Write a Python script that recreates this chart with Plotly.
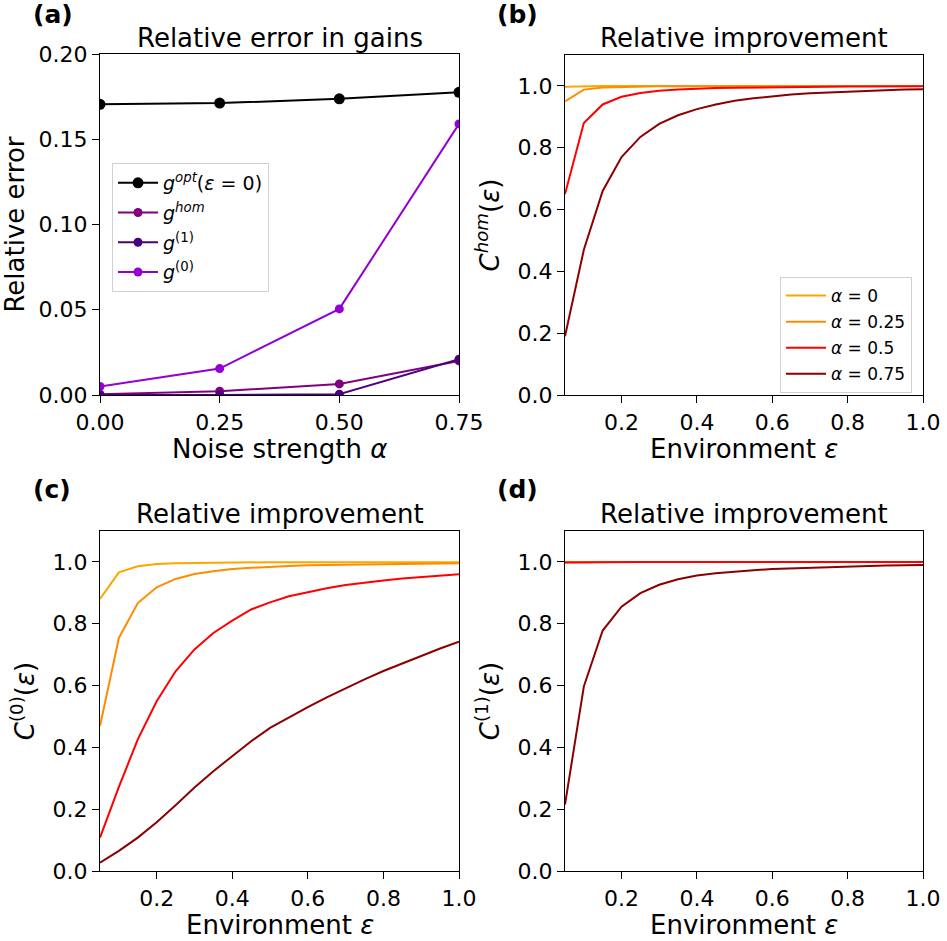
import plotly.graph_objects as go

# ---------------- data ----------------
alpha = [0.0, 0.25, 0.5, 0.75]
g_opt = [0.1705, 0.1712, 0.1737, 0.1775]
g_hom = [0.0005, 0.0022, 0.0065, 0.0200]
g_one = [0.0000, 0.0000, 0.0005, 0.0210]
g_zero = [0.0050, 0.0155, 0.0505, 0.1590]

eps = [0.05, 0.10, 0.15, 0.20, 0.25, 0.30, 0.35, 0.40, 0.45, 0.50,
       0.55, 0.60, 0.65, 0.70, 0.75, 0.80, 0.85, 0.90, 0.95, 1.00]

# panel (b): C^hom
b_a0 = [0.997, 0.999, 1.0, 1.0, 1.0, 1.0, 1.0, 1.0, 1.0, 1.0,
        1.0, 1.0, 1.0, 1.0, 1.0, 1.0, 1.0, 1.0, 1.0, 1.0]
b_a25 = [0.950, 0.988, 0.995, 0.997, 0.998, 0.999, 0.999, 0.999, 1.0, 1.0,
         1.0, 1.0, 1.0, 1.0, 1.0, 1.0, 1.0, 1.0, 1.0, 1.0]
b_a50 = [0.650, 0.880, 0.940, 0.965, 0.977, 0.984, 0.988, 0.991, 0.993, 0.994,
         0.995, 0.996, 0.997, 0.997, 0.998, 0.998, 0.998, 0.999, 0.999, 0.999]
b_a75 = [0.190, 0.470, 0.660, 0.770, 0.835, 0.877, 0.905, 0.925, 0.940, 0.952,
         0.960, 0.967, 0.972, 0.976, 0.979, 0.982, 0.984, 0.986, 0.988, 0.989]

# panel (c): C^(0)
c_a0 = [0.880, 0.966, 0.986, 0.993, 0.996, 0.997, 0.998, 0.998, 0.999, 0.999,
        0.999, 0.999, 0.999, 0.999, 0.999, 0.999, 0.999, 0.999, 0.999, 0.999]
c_a25 = [0.469, 0.754, 0.867, 0.918, 0.945, 0.961, 0.970, 0.977, 0.981, 0.985,
         0.987, 0.989, 0.990, 0.991, 0.992, 0.993, 0.994, 0.995, 0.995, 0.996]
c_a50 = [0.108, 0.272, 0.426, 0.549, 0.646, 0.717, 0.770, 0.810, 0.846, 0.869,
         0.889, 0.903, 0.915, 0.925, 0.933, 0.940, 0.946, 0.951, 0.956, 0.960]
c_a75 = [0.027, 0.065, 0.108, 0.158, 0.213, 0.270, 0.323, 0.372, 0.420, 0.463,
         0.497, 0.530, 0.562, 0.592, 0.620, 0.647, 0.672, 0.697, 0.720, 0.742]

# panel (d): C^(1)
d_a0 = [1.0] * 20
d_a25 = [0.999, 1.0, 1.0, 1.0, 1.0, 1.0, 1.0, 1.0, 1.0, 1.0,
         1.0, 1.0, 1.0, 1.0, 1.0, 1.0, 1.0, 1.0, 1.0, 1.0]
d_a50 = [0.998, 0.999, 1.0, 1.0, 1.0, 1.0, 1.0, 1.0, 1.0, 1.0,
         1.0, 1.0, 1.0, 1.0, 1.0, 1.0, 1.0, 1.0, 1.0, 1.0]
d_a75 = [0.215, 0.597, 0.778, 0.855, 0.899, 0.926, 0.944, 0.956, 0.963, 0.969,
         0.973, 0.977, 0.979, 0.982, 0.984, 0.985, 0.987, 0.988, 0.989, 0.990]

alpha_labels = ["<i>α</i> = 0", "<i>α</i> = 0.25", "<i>α</i> = 0.5", "<i>α</i> = 0.75"]
alpha_colors = ["#FFA500", "#FF8C00", "#FF0000", "#8B0000"]

# ---------------- figure ----------------
W, H = 947, 941
FONT = "DejaVu Sans"
fig = go.Figure()

def px_dom_x(a, b):
    return [a / W, b / W]

def px_dom_y(top, bottom):
    return [1 - bottom / H, 1 - top / H]

# panel (a)
series_a = [
    (g_opt, "black", "<i>g</i><sup><i>opt</i></sup>(<i>ε</i> = 0)", 11),
    (g_hom, "#800080", "<i>g</i><sup><i>hom</i></sup>", 9),
    (g_one, "#4B0082", "<i>g</i><sup>(1)</sup>", 9),
    (g_zero, "#9400D3", "<i>g</i><sup>(0)</sup>", 9),
]
for i, (vals, col, name, ms) in enumerate(series_a):
    fig.add_trace(go.Scatter(
        x=alpha, y=vals, mode="lines+markers", name=name,
        line=dict(color=col, width=2), marker=dict(color=col, size=ms),
        legendgroup=f"a{i}",
        xaxis="x", yaxis="y", legend="legend"))

panels = [("x2", "y2", [b_a0, b_a25, b_a50, b_a75], True),
          ("x3", "y3", [c_a0, c_a25, c_a50, c_a75], False),
          ("x4", "y4", [d_a0, d_a25, d_a50, d_a75], False)]
for xa, ya, sets, show in panels:
    for j, (vals, col, name) in enumerate(zip(sets, alpha_colors, alpha_labels)):
        fig.add_trace(go.Scatter(
            x=eps, y=vals, mode="lines", name=name,
            line=dict(color=col, width=2), legendgroup=f"b{j}",
            xaxis=xa, yaxis=ya, showlegend=show, legend="legend2"))

tickfont = dict(family=FONT, size=22, color="black")
titlefont = dict(family=FONT, size=26, color="black")

def axis_common():
    return dict(showline=True, linecolor="black", linewidth=1.2, mirror=True,
                ticks="outside", ticklen=7, tickcolor="black", tickwidth=1.2,
                showgrid=False, zeroline=False, tickfont=tickfont,
                automargin=False)

domains = {
    "a": (px_dom_x(100, 459), px_dom_y(54, 395)),
    "b": (px_dom_x(565, 923), px_dom_y(55, 395)),
    "c": (px_dom_x(100, 459), px_dom_y(531, 871)),
    "d": (px_dom_x(565, 923), px_dom_y(531, 871)),
}

layout = dict(
    width=W, height=H, margin=dict(l=0, r=0, t=0, b=0),
    paper_bgcolor="white", plot_bgcolor="white",
    font=dict(family=FONT, color="black"),
    xaxis=dict(**axis_common(), domain=domains["a"][0], anchor="y",
               range=[0, 0.75], tickvals=[0, 0.25, 0.5, 0.75],
               ticktext=["0.00", "0.25", "0.50", "0.75"]),
    yaxis=dict(**axis_common(), domain=domains["a"][1], anchor="x",
               range=[0, 0.2], tickvals=[0, 0.05, 0.1, 0.15, 0.2],
               ticktext=["0.00", "0.05", "0.10", "0.15", "0.20"],
               title=dict(text="Relative error", font=titlefont, standoff=8)),
)
for key, xa, ya, ytitle in [("b", "xaxis2", "yaxis2", "<i>C</i><sup><i>hom</i></sup>(<i>ε</i>)"),
                            ("c", "xaxis3", "yaxis3", "<i>C</i><sup>(0)</sup>(<i>ε</i>)"),
                            ("d", "xaxis4", "yaxis4", "<i>C</i><sup>(1)</sup>(<i>ε</i>)")]:
    xn = xa.replace("axis", "")
    yn = ya.replace("axis", "")
    layout[xa] = dict(**axis_common(), domain=domains[key][0], anchor=yn,
                      range=[0.05, 1.0], tickvals=[0.2, 0.4, 0.6, 0.8, 1.0],
                      ticktext=["0.2", "0.4", "0.6", "0.8", "1.0"])
    layout[ya] = dict(**axis_common(), domain=domains[key][1], anchor=xn,
                      range=[0, 1.1], tickvals=[0, 0.2, 0.4, 0.6, 0.8, 1.0],
                      ticktext=["0.0", "0.2", "0.4", "0.6", "0.8", "1.0"],
                      title=dict(text=ytitle, font=titlefont, standoff=10))

layout["legend"] = dict(x=112 / W, y=1 - 163 / H, xanchor="left", yanchor="top",
                        bgcolor="white", bordercolor="#d0d0d0", borderwidth=1,
                        font=dict(family=FONT, size=19, color="black"),
                        itemwidth=40, tracegroupgap=2)
layout["legend2"] = dict(x=780 / W, y=1 - 277 / H, xanchor="left", yanchor="top",
                         bgcolor="white", bordercolor="#d0d0d0", borderwidth=1,
                         font=dict(family=FONT, size=17, color="black"),
                         itemwidth=40, tracegroupgap=1)
fig.update_layout(**layout)

# x-axis titles (placed as text below each panel)
xtitles = [("Noise strength <i>α</i>", (100 + 459) / 2, 449),
           ("Environment <i>ε</i>", (565 + 923) / 2, 449),
           ("Environment <i>ε</i>", (100 + 459) / 2, 925),
           ("Environment <i>ε</i>", (565 + 923) / 2, 925)]
for text, cx, cy in xtitles:
    fig.add_annotation(text=text, x=cx / W, y=1 - cy / H, xref="paper", yref="paper",
                       xanchor="center", yanchor="middle", showarrow=False,
                       font=titlefont)

# titles and panel labels
titles = [("Relative error in gains", (100 + 459) / 2, 38),
          ("Relative improvement", (565 + 923) / 2, 38),
          ("Relative improvement", (100 + 459) / 2, 514),
          ("Relative improvement", (565 + 923) / 2, 514)]
for text, cx, cy in titles:
    fig.add_annotation(text=text, x=cx / W, y=1 - cy / H, xref="paper", yref="paper",
                       xanchor="center", yanchor="middle", showarrow=False,
                       font=dict(family=FONT, size=26, color="black"))
labels = [("(a)", 31, 14), ("(b)", 495, 14), ("(c)", 31, 489), ("(d)", 495, 489)]
for text, lx, ly in labels:
    fig.add_annotation(text=f"<b>{text}</b>", x=lx / W, y=1 - ly / H, xref="paper",
                       yref="paper", xanchor="left", yanchor="middle", showarrow=False,
                       font=dict(family=FONT, size=25, color="black"))

fig.write_html("out.html")
